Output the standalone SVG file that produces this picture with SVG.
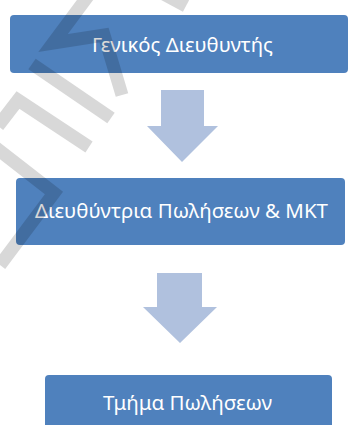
<svg xmlns="http://www.w3.org/2000/svg" width="350" height="425" viewBox="0 0 350 425">
  <style>
    .box { fill: #4f81bd; }
    .lbl { font-family: "Noto Sans", "Open Sans", "DejaVu Sans", sans-serif; font-size: 20px; fill: #ffffff; text-anchor: middle; }
    .arr { fill: #b0c1de; }
    .wm { fill: none; stroke: #000000; stroke-width: 13; stroke-linejoin: miter; stroke-linecap: butt; }
  </style>
  <rect width="350" height="425" fill="#ffffff"/>
  <g id="connectors">
    <polygon class="arr" points="161,90 204,90 204,126 218,126 182,162 147,126 161,126"/>
    <polygon class="arr" points="157,273 202,273 202,307 217,307 180,343 143,307 157,307"/>
  </g>
  <g id="node-general-director">
    <rect class="box" x="10" y="15" width="338" height="58" rx="4"/>
    <text class="lbl" x="182.5" y="52" textLength="181" lengthAdjust="spacingAndGlyphs">Γενικός Διευθυντής</text>
  </g>
  <g id="node-sales-mkt-director">
    <rect class="box" x="16" y="178" width="329" height="67" rx="4"/>
    <text class="lbl" x="181.5" y="218" textLength="293" lengthAdjust="spacingAndGlyphs">Διευθύντρια Πωλήσεων &amp; ΜΚΤ</text>
  </g>
  <g id="node-sales-dept">
    <rect class="box" x="45" y="375" width="287" height="60" rx="4"/>
    <text class="lbl" x="187.5" y="410" textLength="169" lengthAdjust="spacingAndGlyphs">Τμήμα Πωλήσεων</text>
  </g>
  <g id="watermark" opacity="0.15">
    <path class="wm" d="M88,-4 L53,43 L104,35 L122,95"/>
    <path class="wm" d="M32,64 L111,118"/>
    <path class="wm" d="M-2,126 L18,100 L89,147"/>
    <path class="wm" d="M-5,147 L54,193 L0,265"/>
    <path class="wm" d="M160,-8 L186,6"/>
  </g>
</svg>
